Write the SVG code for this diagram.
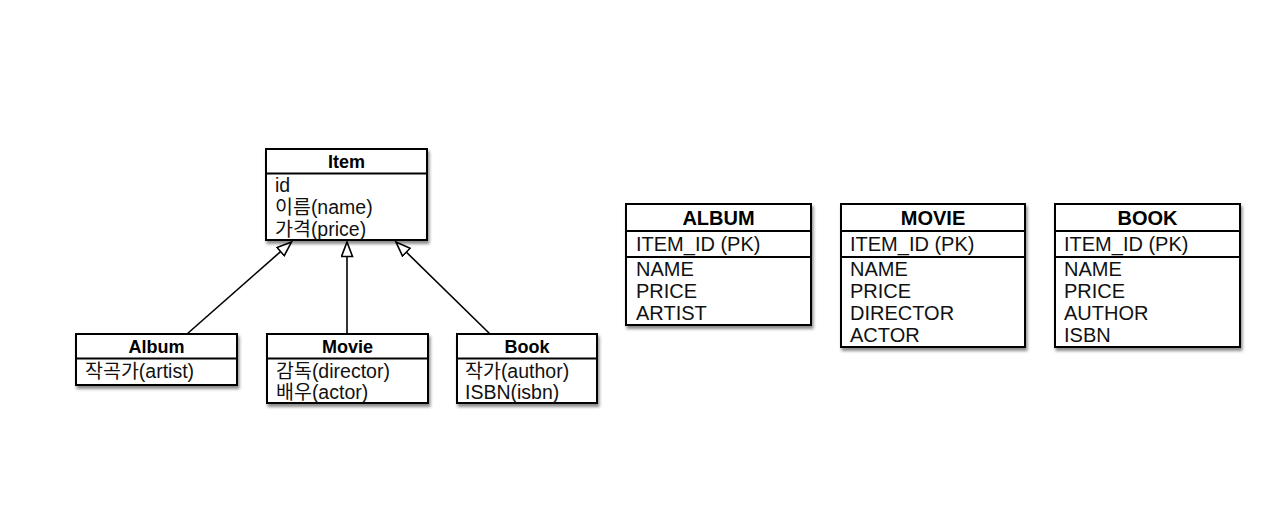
<svg xmlns="http://www.w3.org/2000/svg" width="1273" height="523" viewBox="0 0 1273 523">
<defs>
<filter id="sh" x="-10%" y="-10%" width="130%" height="140%">
<feDropShadow dx="1.5" dy="3" stdDeviation="1.8" flood-color="#000" flood-opacity="0.45"/>
</filter>
<marker id="tri" viewBox="0 0 17 13" markerWidth="17" markerHeight="13" refX="15.5" refY="6.5" orient="auto" markerUnits="userSpaceOnUse">
<path d="M1,1 L15.5,6.5 L1,12 Z" fill="#fff" stroke="#000" stroke-width="1.6" stroke-linejoin="miter"/>
</marker>
</defs>
<style>
.box{fill:#fff;stroke:#000;stroke-width:2}
.sep{stroke:#000;stroke-width:2}
.t{font-family:"Liberation Sans","Noto Sans CJK KR",sans-serif;font-size:19.5px;fill:#111}
.h{font-family:"Liberation Sans","Noto Sans CJK KR",sans-serif;font-size:18px;font-weight:bold;fill:#000;text-anchor:middle}
.rt{font-family:"Liberation Sans",sans-serif;font-size:20px;fill:#111}
.rh{font-family:"Liberation Sans",sans-serif;font-size:20px;font-weight:bold;fill:#000;text-anchor:middle}
.conn{stroke:#000;stroke-width:1.6;fill:none;marker-end:url(#tri)}
</style>
<rect width="1273" height="523" fill="#fff"/>

<g id="connectors">
<line class="conn" x1="187" y1="334" x2="291.5" y2="242"/>
<line class="conn" x1="347" y1="334" x2="347" y2="242"/>
<line class="conn" x1="490" y1="334" x2="396" y2="242"/>
</g>

<g id="item">
<rect class="box" x="266" y="149" width="161" height="91" filter="url(#sh)"/>
<line class="sep" x1="266" y1="173.5" x2="427" y2="173.5"/>
<text class="h" x="346.5" y="168">Item</text>
<text class="t" x="275" y="192">id</text>
<text class="t" x="275" y="214">이름(name)</text>
<text class="t" x="275" y="236">가격(price)</text>
</g>

<g id="album">
<rect class="box" x="76" y="334" width="161" height="51" filter="url(#sh)"/>
<line class="sep" x1="76" y1="358.5" x2="237" y2="358.5"/>
<text class="h" x="156.5" y="353">Album</text>
<text class="t" x="85" y="378">작곡가(artist)</text>
</g>

<g id="movie">
<rect class="box" x="267" y="334" width="161" height="69" filter="url(#sh)"/>
<line class="sep" x1="267" y1="358.5" x2="428" y2="358.5"/>
<text class="h" x="347.5" y="353">Movie</text>
<text class="t" x="276" y="378">감독(director)</text>
<text class="t" x="276" y="399">배우(actor)</text>
</g>

<g id="book">
<rect class="box" x="457" y="334" width="140" height="69" filter="url(#sh)"/>
<line class="sep" x1="457" y1="358.5" x2="597" y2="358.5"/>
<text class="h" x="527" y="353">Book</text>
<text class="t" x="465" y="378">작가(author)</text>
<text class="t" x="465" y="399">ISBN(isbn)</text>
</g>

<g id="album-table">
<rect class="box" x="626" y="204" width="185" height="121" filter="url(#sh)"/>
<line class="sep" x1="626" y1="231" x2="811" y2="231"/>
<line class="sep" x1="626" y1="257" x2="811" y2="257"/>
<text class="rh" x="718.5" y="225">ALBUM</text>
<text class="rt" x="636" y="251">ITEM_ID (PK)</text>
<text class="rt" x="636" y="276">NAME</text>
<text class="rt" x="636" y="298">PRICE</text>
<text class="rt" x="636" y="320">ARTIST</text>
</g>

<g id="movie-table">
<rect class="box" x="841" y="204" width="184" height="143" filter="url(#sh)"/>
<line class="sep" x1="841" y1="231" x2="1025" y2="231"/>
<line class="sep" x1="841" y1="257" x2="1025" y2="257"/>
<text class="rh" x="933" y="225">MOVIE</text>
<text class="rt" x="850" y="251">ITEM_ID (PK)</text>
<text class="rt" x="850" y="276">NAME</text>
<text class="rt" x="850" y="298">PRICE</text>
<text class="rt" x="850" y="320">DIRECTOR</text>
<text class="rt" x="850" y="342">ACTOR</text>
</g>

<g id="book-table">
<rect class="box" x="1055" y="204" width="185" height="143" filter="url(#sh)"/>
<line class="sep" x1="1055" y1="231" x2="1240" y2="231"/>
<line class="sep" x1="1055" y1="257" x2="1240" y2="257"/>
<text class="rh" x="1147.5" y="225">BOOK</text>
<text class="rt" x="1064" y="251">ITEM_ID (PK)</text>
<text class="rt" x="1064" y="276">NAME</text>
<text class="rt" x="1064" y="298">PRICE</text>
<text class="rt" x="1064" y="320">AUTHOR</text>
<text class="rt" x="1064" y="342">ISBN</text>
</g>
</svg>
